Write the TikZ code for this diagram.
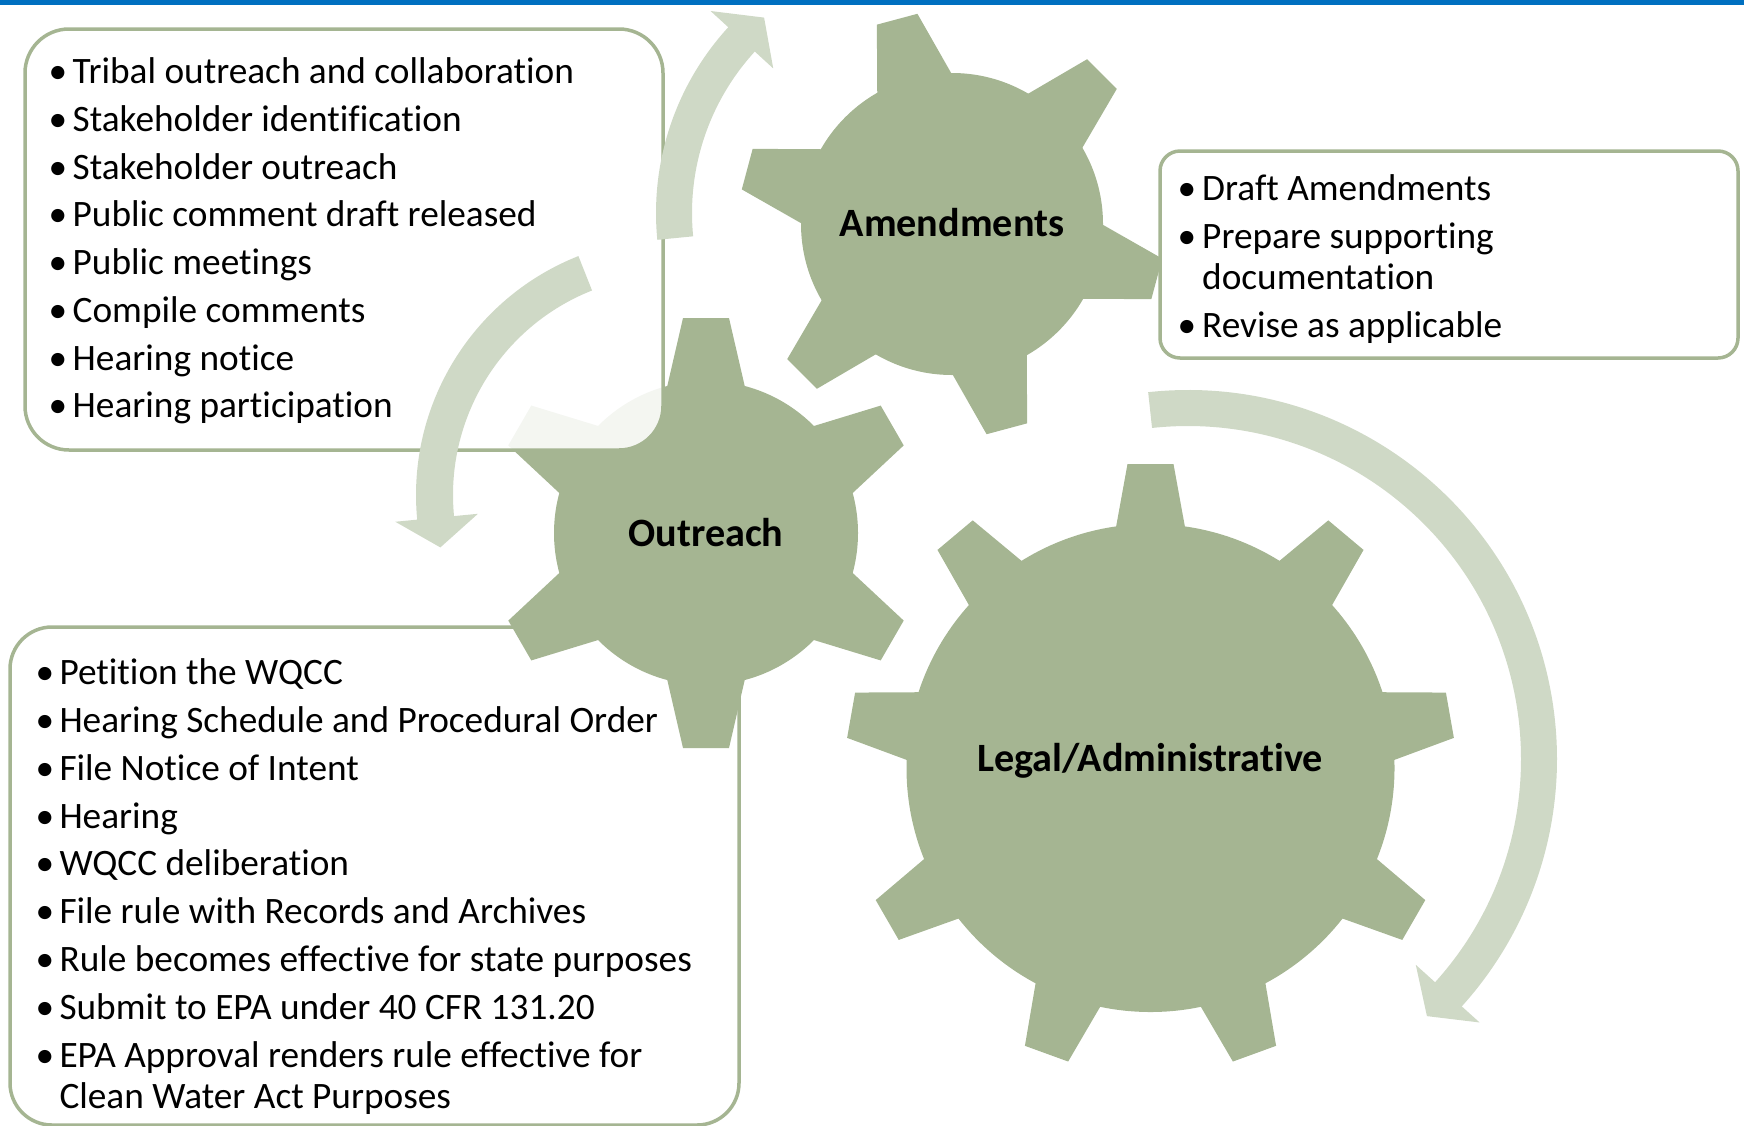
\documentclass[tikz,border=0pt]{standalone}
\usepackage{fontspec}
\setmainfont{Carlito}[Ligatures={NoCommon,NoContextual,NoRequired}]
\definecolor{gearc}{HTML}{A5B592}
\definecolor{arrowc}{HTML}{CFD9C6}
\definecolor{barc}{HTML}{0070C0}
\tikzset{
  itemtext/.style={anchor=base west, inner sep=0pt, font=\fontsize{37.3}{44}\selectfont},
  bul/.style={anchor=base, inner sep=0pt, font=\fontsize{37.3}{44}\selectfont},
  gearlabel/.style={anchor=base, inner sep=0pt, font=\fontsize{40.2}{46}\selectfont\bfseries},
  infobox/.style={draw=gearc, line width=3.5pt, fill=white, inner sep=0pt, rectangle},
  gearfill/.style={fill=gearc},
  arrowfill/.style={fill=arrowc},
}
\begin{document}
\begin{tikzpicture}[x=1pt,y=-1pt]
\useasboundingbox (0,0) rectangle (1744,1125);
% top bar
\fill[barc] (0,0) rectangle (1744,5);

% bottom-left box (behind the gear)
\node[infobox, rounded corners=42pt, minimum width=729pt, minimum height=498pt] (blbox) at (374.5,876) {};

% Outreach gear
\fill[gearfill] (706,533) circle[radius=152];
\foreach \a in {-90,-30,...,210}
  \fill[gearfill, shift={(706,533)}, rotate=-\a] (138,-40.8) -- (215,-23) -- (215,23) -- (138,40.8) -- cycle;
% Amendments gear
\fill[gearfill] (952,224) circle[radius=151];
\foreach \a in {-105,-45,...,195}
  \fill[gearfill, shift={(952,224)}, rotate=-\a] (139,-40.1) -- (212,-21) -- (212,21) -- (139,40.1) -- cycle;
% Legal gear
\fill[gearfill] (1150.5,768) circle[radius=244];
\foreach \a in {-90,-50,...,230}
  \fill[gearfill, shift={(1150.5,768)}, rotate=-\a] (232,-36.1) -- (304,-23) -- (304,23) -- (232,36.1) -- cycle;

% right box
\node[infobox, rounded corners=20pt, minimum width=578pt, minimum height=207pt] (rbox) at (1449,254.5) {};
% top-left box (semi-transparent fill)
\node[infobox, rounded corners=44pt, fill opacity=0.88, draw opacity=1, minimum width=638pt, minimum height=421pt] (tlbox) at (344,239.5) {};

% circular arrows
\fill[arrowfill, shift={(931,213)}]
  (174.4:275) arc[start angle=174.4, end angle=222.5, radius=275]
  -- (222.5:299) -- (229.5:257) -- (222.5:214) -- (222.5:239)
  arc[start angle=222.5, end angle=174.4, radius=239] -- cycle;
\fill[arrowfill, shift={(673,495)}]
  (248.4:257) arc[start angle=248.4, end angle=174.5, radius=257]
  -- (174.5:279) -- (167.3:238.5) -- (174.5:196) -- (174.5:220)
  arc[start angle=174.5, end angle=248.4, radius=220] -- cycle;
\fill[arrowfill, shift={(1188,759)}]
  (-96.2:369) arc[start angle=-96.2, end angle=42.1, radius=369]
  -- (42.1:393) -- (47.1:351) -- (42.1:307) -- (42.1:333)
  arc[start angle=42.1, end angle=-96.2, radius=333] -- cycle;

% gear labels
\node[gearlabel] (outreach) at (706,546) {Outreach};
\node[gearlabel] (amend) at (952,236) {Amendments};
\node[gearlabel] (legal) at (1150,771) {Legal/Administrative};

% top-left box text
\foreach \yy/\txt [count=\i] in {83/Tribal outreach and collaboration,
  131/Stakeholder identification, 179/Stakeholder outreach,
  226/Public comment draft released, 274/Public meetings,
  322/Compile comments, 370/Hearing notice, 417/Hearing participation}
{
  \node[bul] (tlb\i) at (58,\yy) {\textbullet};
  \node[itemtext] (tlt\i) at (72.5,\yy) {\txt};
}

% bottom-left box text
\foreach \yy/\txt [count=\i] in {684/Petition the WQCC,
  732/Hearing Schedule and Procedural Order, 780/File Notice of Intent,
  828/Hearing, 875/WQCC deliberation, 923/File rule with Records and Archives,
  971/Rule becomes effective for state purposes,
  1019/Submit to EPA under 40 CFR 131.20,
  1067/EPA Approval renders rule effective for}
{
  \node[bul] (blb\i) at (45,\yy) {\textbullet};
  \node[itemtext] (blt\i) at (59.3,\yy) {\txt};
}
\node[itemtext] (blt10) at (59.3,1108) {Clean Water Act Purposes};

% right box text
\node[bul] (rb1) at (1187,200) {\textbullet};
\node[itemtext] (rt1) at (1202,200) {Draft Amendments};
\node[bul] (rb2) at (1187,248) {\textbullet};
\node[itemtext] (rt2) at (1202,248) {Prepare supporting};
\node[itemtext] (rt2b) at (1202,289) {documentation};
\node[bul] (rb3) at (1187,337) {\textbullet};
\node[itemtext] (rt3) at (1202,337) {Revise as applicable};
\end{tikzpicture}
\end{document}
